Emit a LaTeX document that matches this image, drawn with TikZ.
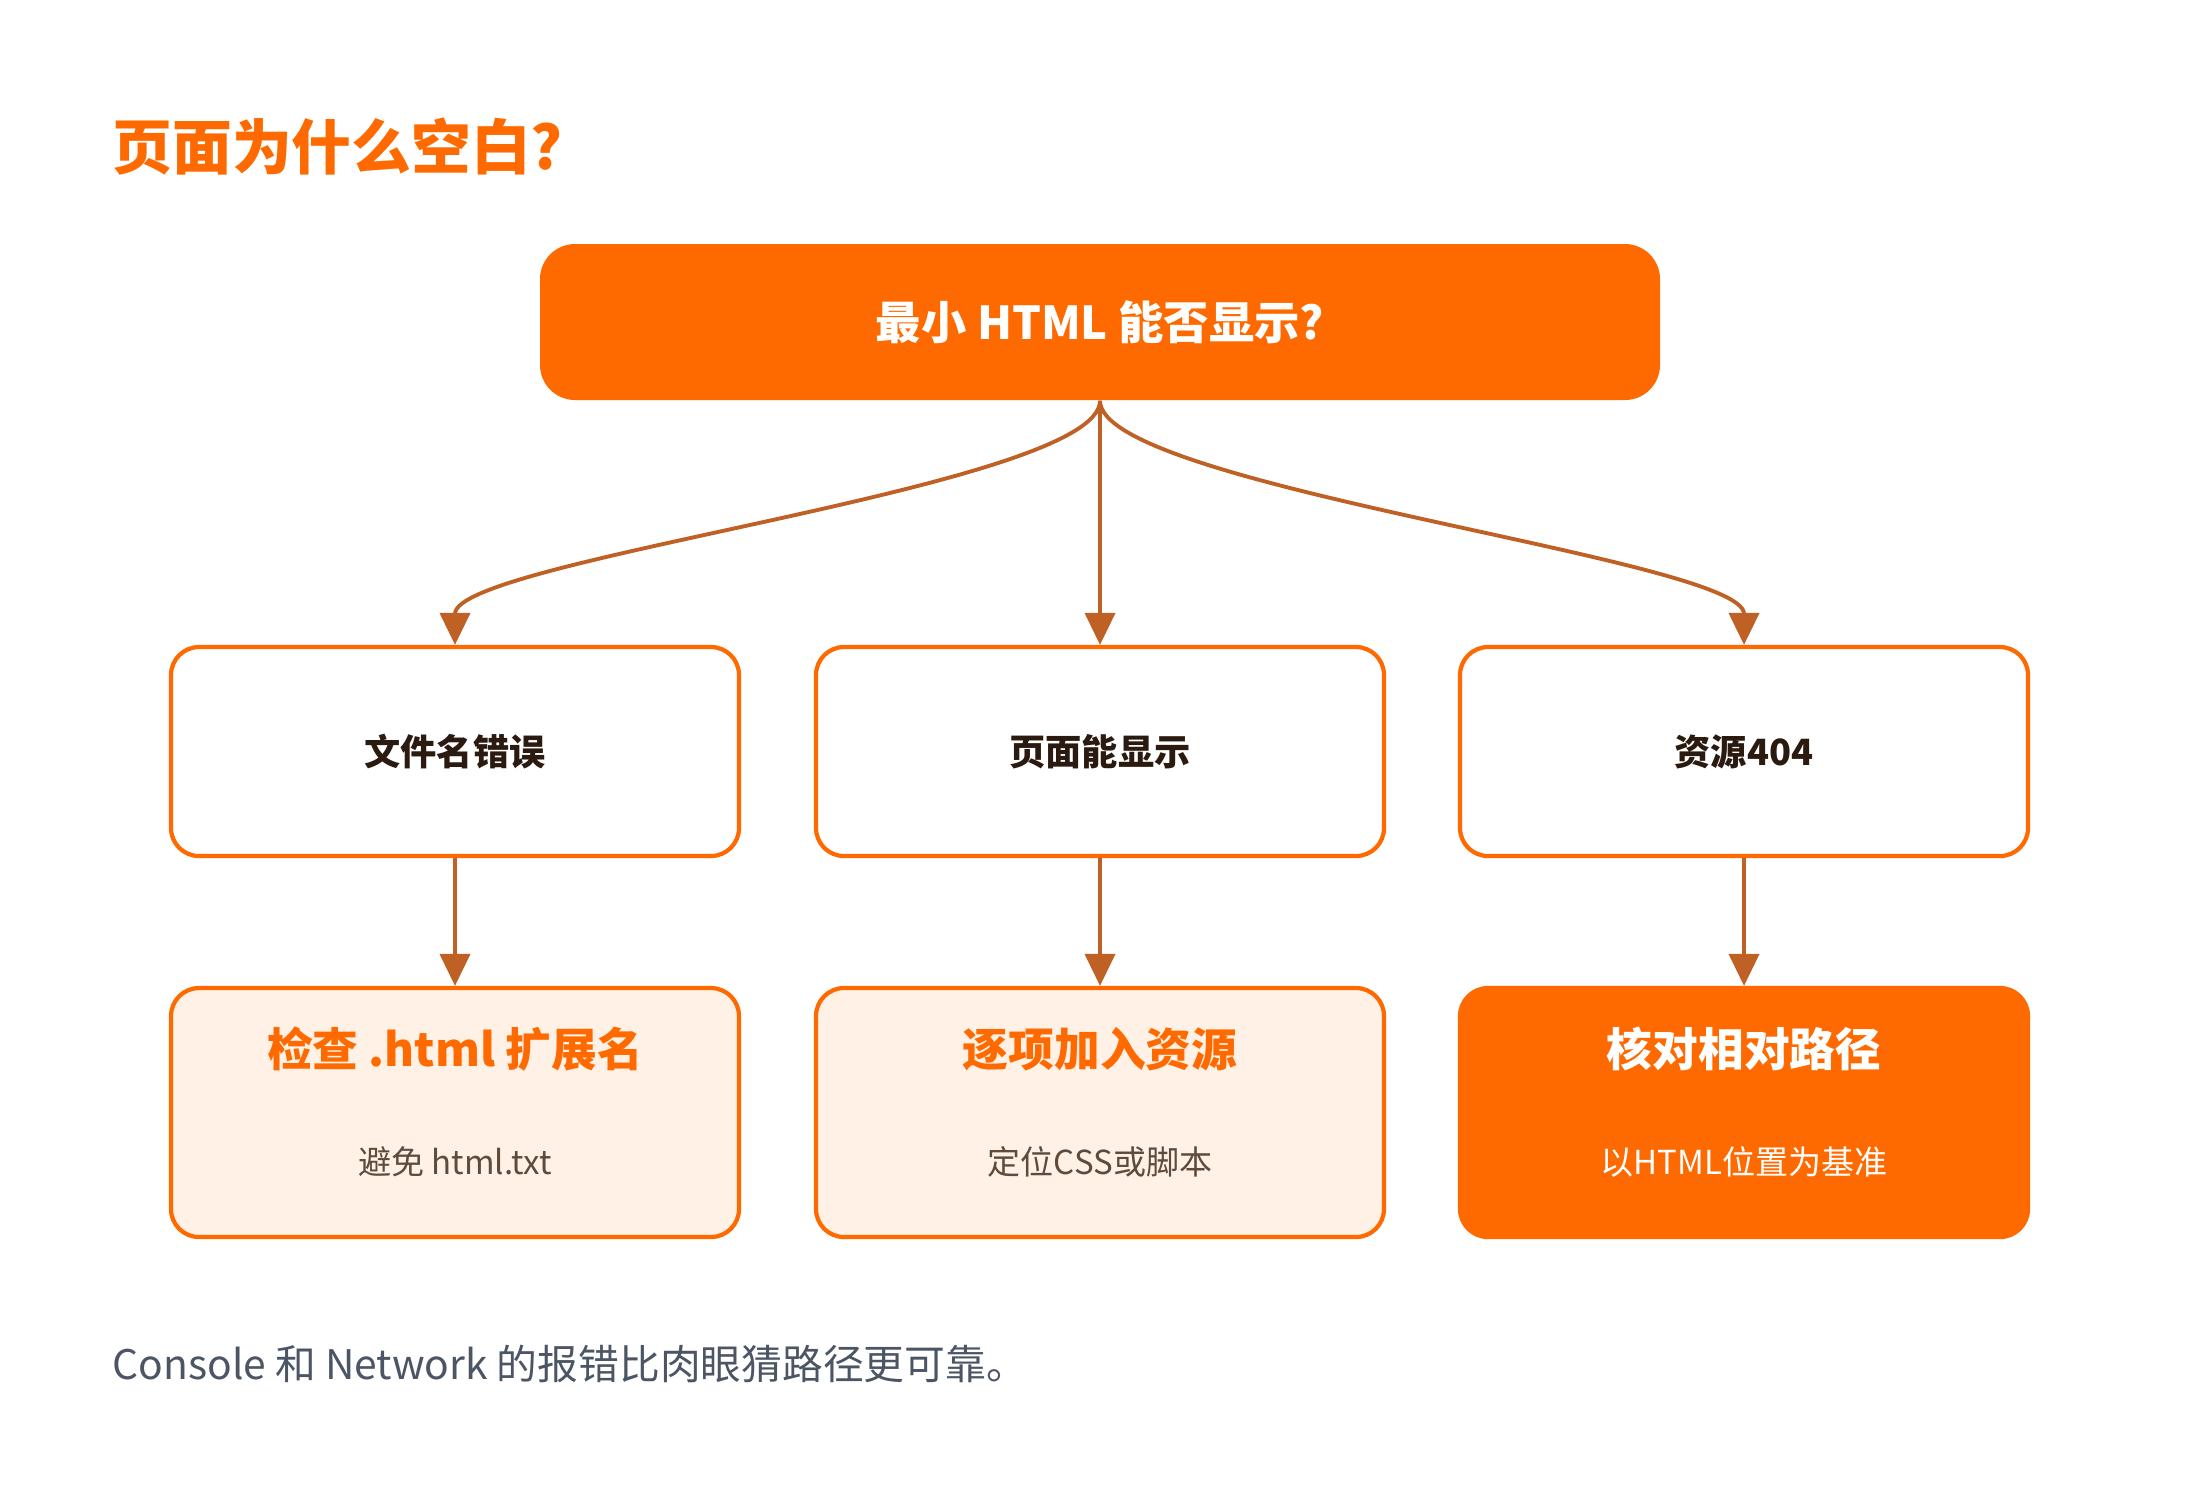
\documentclass[tikz,border=0pt]{standalone}
\usepackage{fontspec}
\setmainfont{Noto Sans CJK SC}
\usepackage{tikz}
\usetikzlibrary{arrows.meta}

\definecolor{blankorange}{HTML}{FF6A00}
\definecolor{flowbrown}{HTML}{BF6124}
\definecolor{softfill}{HTML}{FFF1E6}
\definecolor{inktext}{HTML}{2A1A10}
\definecolor{subtext}{HTML}{5E4B3C}
\definecolor{notegray}{HTML}{4B5563}

\tikzset{
  mainbox/.style={draw=none, fill=blankorange, rounded corners=0.35cm,
    minimum width=11.2cm, minimum height=1.56cm, text=white,
    font=\fontsize{12.9pt}{15pt}\selectfont\bfseries},
  midbox/.style={draw=blankorange, line width=1.2pt, fill=white, rounded corners=0.28cm,
    minimum width=5.68cm, minimum height=2.09cm, text=inktext,
    font=\fontsize{10.3pt}{12pt}\selectfont\bfseries},
  fixbox/.style={draw=blankorange, line width=1.2pt, fill=softfill, rounded corners=0.28cm,
    minimum width=5.68cm, minimum height=2.49cm},
  hotbox/.style={fixbox, fill=blankorange},
  fixhead/.style={font=\fontsize{13pt}{15pt}\selectfont\bfseries, text=blankorange},
  fixnote/.style={font=\fontsize{9.4pt}{11pt}\selectfont, text=subtext},
  flow/.style={color=flowbrown, line width=1.1pt, -{Triangle[width=0.3cm,length=0.32cm]}}
}

\begin{document}
\begin{tikzpicture}
  \useasboundingbox (0,0) rectangle (22,-14.88);

  \draw (1.12,-1.47) node[anchor=west, inner sep=0pt, text=blankorange, font=\fontsize{17pt}{20pt}\selectfont\bfseries] (title) {页面为什么空白?};

  \draw (11.0,-3.22) node[mainbox] (minimal) {最小 HTML 能否显示?};

  \draw (4.55,-7.515) node[midbox] (filename) {文件名错误};
  \draw (11.0,-7.515) node[midbox] (pageok) {页面能显示};
  \draw (17.44,-7.515) node[midbox] (res404) {资源404};

  \draw (4.55,-11.125) node[fixbox] (checkext) {};
    \draw (4.55,-10.49) node[fixhead] (checkexthead) {检查 .html 扩展名};
    \draw (4.55,-11.62) node[fixnote] (checkextnote) {避免 html.txt};
  \draw (11.0,-11.125) node[fixbox] (addres) {};
    \draw (11.0,-10.49) node[fixhead] (addreshead) {逐项加入资源};
    \draw (11.0,-11.62) node[fixnote] (addresnote) {定位CSS或脚本};
  \draw (17.44,-11.125) node[hotbox] (relpath) {};
    \draw (17.44,-10.49) node[fixhead, text=white] (relpathhead) {核对相对路径};
    \draw (17.44,-11.62) node[fixnote, text=white] (relpathnote) {以HTML位置为基准};

  \draw (1.12,-13.64) node[anchor=west, inner sep=0pt, text=notegray, font=\fontsize{11.6pt}{14pt}\selectfont] (note) {Console 和 Network 的报错比肉眼猜路径更可靠。};

  \path[flow] (minimal) edge[out=-90, in=90, looseness=0.32] (filename);
  \path[flow] (minimal) edge (pageok);
  \path[flow] (minimal) edge[out=-90, in=90, looseness=0.32] (res404);

  \path[flow] (filename) edge (checkext);
  \path[flow] (pageok) edge (addres);
  \path[flow] (res404) edge (relpath);
\end{tikzpicture}
\end{document}
